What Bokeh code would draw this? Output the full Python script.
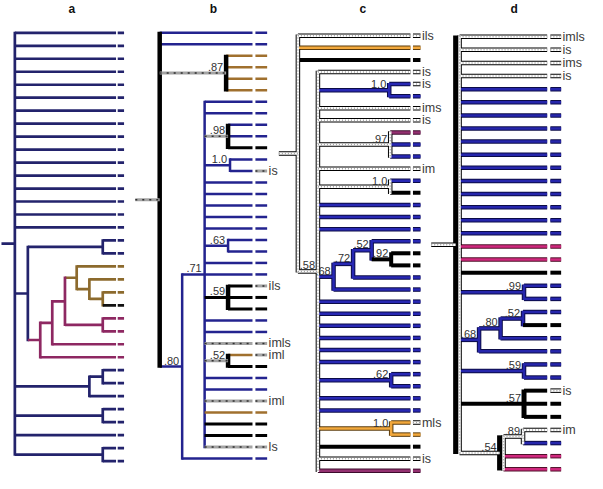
from bokeh.plotting import figure
from bokeh.models import Range1d
from bokeh.embed import file_html
from bokeh.resources import INLINE
from bokeh.core.properties import value

# ---------------- data ----------------
panel_names = ["a", "b", "c", "d"]
title_x = [75, 220, 373, 528]
title_y = 12

# leaf rows per panel: first leaf y, last leaf y, number of leaves
leaf_first = [36.0, 36.0, 39.0, 40.0]
leaf_last = [473.3, 470.7, 483.3, 481.7]
leaf_count = [34, 38, 37, 34]
# x where leaf branches end, tip marker start / end
leaf_end = [120.3, 260.0, 421.7, 561.7]
tip_start = [122.0, 263.0, 424.3, 565.0]
tip_stop = [128.5, 275.0, 432.0, 576.0]
# root stub start x
stub_x = [3.0, 140.0, 287.0, 443.0]


def L(style, tip=None, lab=None):
    return ("L", style, tip, lab)


def N(x, stem, vert, sup, *children):
    return ("N", x, stem, vert, sup, list(children))


tree_a = N(16.7, "A", "A", None,
           *[L("A")] * 16,
           N(30, "A", "A", None,
             N(106.7, "A", "A", None, L("A"), L("A")),
             N(42.7, "Am", "Am", None,
               N(55, "Am", "Am", None,
                 N(68, "Am", "Am", None,
                   N(80, "Ao", "Ao", None,
                     L("Ao"),
                     N(93, "Ao", "Ao", None,
                       L("Ao"),
                       N(106.7, "Ao", "Ao", None, L("Ao"), L("Ak")))),
                   N(106.7, "Am", "Am", None, L("Am"), L("Am"))),
                 L("Am")),
               L("Am"))),
           N(93, "A", "A", None, N(106.7, "A", "A", None, L("A"), L("A")), L("A")),
           N(106.7, "A", "A", None, L("A"), L("A")),
           L("A"),
           N(106.7, "A", "A", None, L("A"), L("A")))

tree_b = N(165, "Bg", "BK", None,
           L("Bb"), L("Bb"),
           N(233, "Bg", "BK", ".87", *[L("Bo")] * 4),
           N(188, "Bb", "Bb", ".80",
             N(211, "Bb", "Bb", ".71",
               L("Bb"), L("Bb"),
               N(235, "Bg", "BK", ".98", L("Bb"), L("Bb"), L("Bk")),
               N(237, "Bb", "Bb", "1.0", L("Bb"), L("Bb", "Bg", "is")),
               *[L("Bb")] * 5,
               N(235, "Bb", "Bb", ".63", L("Bb"), L("Bb")),
               L("Bb"), L("Bb"),
               N(235, "Bk", "BK", ".59", L("Bk", "Bg", "ils"), L("Bk"), L("Bk")),
               L("Bb"), L("Bb"),
               L("Bg", "Bg", "imls"),
               N(235, "Bg", "BK", ".52", L("Bo", "Bg", "iml"), L("Bk")),
               L("Bb"), L("Bb"),
               L("Bg", "Bg", "iml"),
               L("Bo"), L("Bk"), L("Bk"),
               L("Bg", "Bg", "ls")),
             L("Bb")))

tree_c = N(306.5, "Ch", "Ch", None,
           L("Ch", "Ch", "ils"), L("Co"), L("Ck"),
           N(327, "Ch", "Ch", ".58",
             L("Ch", "Ch", "is"),
             N(400, "Cb", "Cb", "1.0", L("Cb", "Ch", "is"), L("Cb")),
             L("Ch", "Ch", "ims"), L("Ch", "Ch", "is"),
             N(401, "Ch", "Ch", ".97", L("Cm"), L("Cb"), L("Cb")),
             L("Ch", "Ch", "im"),
             N(401, "Ch", "Ch", "1.0", L("Cb"), L("Ck")),
             *[L("Cb")] * 3,
             N(343, "Cb", "Cb", ".68",
               N(363, "Cb", "Cb", ".72",
                 N(382, "Cb", "Cb", ".52", L("Cb"),
                   N(402, "Ck", "Ck", ".92", L("Ck"), L("Ck"))),
                 L("Cb")),
               L("Cb")),
             *[L("Cb")] * 6,
             N(402, "Cb", "Cb", ".62", L("Cb"), L("Cb")),
             L("Cb"), L("Cb"),
             N(402, "Co", "Co", "1.0", L("Co", "Ch", "mls"), L("Co")),
             L("Ck"), L("Ch", "Ch", "is"), L("Cm")))

tree_d = N(472, "Dh", "DKH", None,
           L("Dh", "Dh", "imls"), L("Dh", "Dh", "is"), L("Dh", "Dh", "ims"), L("Dh", "Dh", "is"),
           *[L("Db")] * 12,
           L("Dp"), L("Dp"), L("Dk"),
           N(538, "Db", "Db", ".99", L("Db"), L("Db")),
           N(492, "Db", "Db", ".68",
             N(514, "Db", "Db", ".80",
               N(537, "Db", "Db", ".52", L("Db"), L("Dk")),
               L("Db")),
             L("Db")),
           N(538, "Db", "Db", ".59", L("Db"), L("Db")),
           N(538, "Dk", "DK", ".57", L("Dk", "Dh", "is"), L("Dk"), L("Dk")),
           N(517, "Dh", "DKH", ".54",
             N(537, "Dh", "Dh", ".89", L("Dh", "Dh", "im"), L("Db")),
             L("Dp"), L("Dp")))

trees = [tree_a, tree_b, tree_c, tree_d]

# line styles: list of passes (layer, colour, width, dash)
STYLES = {
    "A": [(1, "#23236c", 2.7, None)],
    "Ao": [(1, "#8c6a2d", 2.7, None)],
    "Am": [(1, "#8e2862", 2.7, None)],
    "Ak": [(1, "#111111", 2.7, None)],
    "Bb": [(1, "#23238f", 2.5, None)],
    "Bo": [(1, "#a0702e", 2.5, None)],
    "Bk": [(1, "#000000", 3, None)],
    "BK": [(1, "#000000", 4.5, None)],
    "Bg": [(1, "#a3a3a3", 3, None), (2, "#303030", 1.5, "2 5")],
    "Cb": [(0, "#0c0c48", 4.5, None), (1, "#2828b4", 2.5, None)],
    "Co": [(0, "#5c3c0c", 4.5, None), (1, "#f2a83c", 2.5, None)],
    "Ck": [(1, "#000000", 4, None)],
    "Cm": [(0, "#3c0c2c", 4.5, None), (1, "#933070", 2.5, None)],
    "Ch": [(0, "#000000", 4.5, None), (1, "#ffffff", 2.5, None), (2, "#a0a0a0", 1.5, "1 2")],
    "Db": [(0, "#0c0c48", 4.5, None), (1, "#2626ac", 2.5, None)],
    "Dk": [(1, "#000000", 4, None)],
    "DK": [(1, "#000000", 5, None)],
    "Dp": [(0, "#50102a", 4.5, None), (1, "#d0287e", 2.5, None)],
    "Dh": [(0, "#000000", 4.5, None), (1, "#ffffff", 2.5, None), (2, "#a0a0a0", 1.5, "1 2")],
}

# ---------------- layout ----------------
segs = []
tip_labels = []
supports = []
EXT = 1.2


def layout(tree, k):
    dy = (leaf_last[k] - leaf_first[k]) / (leaf_count[k] - 1)
    counter = [0]

    def walk(node, parent_x):
        if node[0] == "L":
            _, style, tip, lab = node
            y = leaf_first[k] + counter[0] * dy
            counter[0] += 1
            segs.append((style, parent_x, y, leaf_end[k], y))
            segs.append((tip or style, tip_start[k], y, tip_stop[k], y))
            if lab:
                tip_labels.append((tip_stop[k] + 1.5, y, lab))
            return y
        _, x, stem, vert, sup, children = node
        ys = [walk(c, x) for c in children]
        y = (ys[0] + ys[-1]) / 2
        lx = x
        sx = parent_x if parent_x is not None else stub_x[k]
        if vert == "DKH":
            segs.append(("DK", x - 4, ys[0] - EXT, x - 4, ys[-1] + EXT))
            segs.append(("Dh", x, ys[0] - EXT, x, ys[-1] + EXT))
            lx = x - 4
            segs.append((stem, sx, y, x - 4, y))
        else:
            segs.append((vert, x, ys[0] - EXT, x, ys[-1] + EXT))
            segs.append((stem, sx, y, x, y))
        if sup:
            supports.append((lx - 3, y - 2, sup))
        return y

    walk(tree, None)


for k, t in enumerate(trees):
    layout(t, k)

# ---------------- figure ----------------
p = figure(width=587, height=473, output_backend="svg", toolbar_location=None,
           x_range=Range1d(2, 603), y_range=Range1d(486, 3),
           min_border=0, outline_line_color=None)
p.axis.visible = False
p.grid.visible = False
p.background_fill_color = "white"

for layer in (0, 1, 2):
    for name, passes in STYLES.items():
        for (ly, col, w, dash) in passes:
            if ly != layer:
                continue
            xs = [[s[1], s[3]] for s in segs if s[0] == name]
            ys = [[s[2], s[4]] for s in segs if s[0] == name]
            if not xs:
                continue
            kw = dict(line_color=col, line_width=w)
            if dash:
                kw["line_dash"] = dash
            p.multi_line(xs=xs, ys=ys, **kw)

p.text(x=title_x, y=[title_y] * 4, text=panel_names, text_font=value("Liberation Sans"),
       text_font_size="12px", text_font_style="bold", text_align="center",
       text_baseline="middle", text_color="#111111")

p.text(x=[t[0] for t in tip_labels], y=[t[1] for t in tip_labels], text=[t[2] for t in tip_labels],
       text_font=value("Liberation Sans"), text_font_size="12.5px", text_align="left",
       text_baseline="middle", text_color="#3a3a3a")

p.text(x=[s[0] for s in supports], y=[s[1] for s in supports], text=[s[2] for s in supports],
       text_font=value("Liberation Sans"), text_font_size="11px", text_align="right",
       text_baseline="bottom", text_color="#333333")

open("out.html", "w").write(file_html(p, INLINE))
